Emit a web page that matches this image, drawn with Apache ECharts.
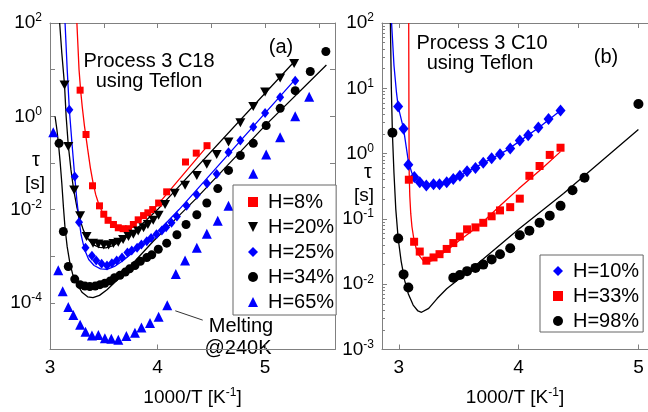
<!DOCTYPE html>
<html>
<head>
<meta charset="utf-8">
<script src="https://cdn.jsdelivr.net/npm/echarts@6/dist/echarts.min.js"></script>
<style>
  html, body { margin: 0; padding: 0; background: #fff; }
  #chart { width: 648px; height: 412px; }
</style>
</head>
<body>
<div id="chart"></div>
<script>
// values as [1000/T, log10(tau)]
// panel (a) - C18
var a8 = [[3.28,0.56],[3.335,-0.39],[3.395,-1.49],[3.46,-1.92],[3.50,-2.10],[3.54,-2.23],[3.59,-2.32],[3.635,-2.39],[3.68,-2.41],[3.73,-2.41],[3.775,-2.32],[3.82,-2.22],[3.87,-2.13],[3.91,-2.07],[3.955,-2.0],[4.01,-1.86],[4.085,-1.62],[4.26,-0.98],[4.36,-0.79],[4.46,-0.63]];
var a20 = [[3.135,0.67],[3.17,-0.65],[3.225,-1.58],[3.28,-2.13],[3.34,-2.58],[3.40,-2.72],[3.45,-2.74],[3.50,-2.76],[3.545,-2.76],[3.59,-2.73],[3.635,-2.70],[3.68,-2.64],[3.73,-2.58],[3.775,-2.53],[3.82,-2.46],[3.87,-2.39],[3.91,-2.32],[3.96,-2.23],[4.01,-2.12],[4.07,-1.89],[4.16,-1.65],[4.256,-1.48],[4.365,-1.27],[4.458,-1.03],[4.55,-0.82],[4.66,-0.55],[4.77,-0.14],[4.89,0.21],[5.0,0.52],[5.14,0.82],[5.27,1.13]];
var a25 = [[3.18,0.14],[3.23,-1.29],[3.27,-2.27],[3.33,-2.82],[3.39,-2.99],[3.43,-3.09],[3.48,-3.16],[3.53,-3.20],[3.575,-3.15],[3.62,-3.09],[3.67,-3.03],[3.72,-2.92],[3.76,-2.88],[3.81,-2.82],[3.85,-2.75],[3.90,-2.68],[3.94,-2.61],[3.99,-2.53],[4.04,-2.45],[4.08,-2.38],[4.13,-2.28],[4.18,-2.15],[4.27,-1.92],[4.365,-1.68],[4.46,-1.44],[4.55,-1.24],[4.66,-0.77],[4.77,-0.52],[4.89,-0.23],[5.0,0.07],[5.14,0.41],[5.28,0.76]];
var a34 = [[3.084,-0.58],[3.124,-2.47],[3.17,-3.22],[3.23,-3.49],[3.28,-3.61],[3.325,-3.64],[3.37,-3.65],[3.42,-3.64],[3.465,-3.61],[3.51,-3.58],[3.56,-3.53],[3.60,-3.46],[3.65,-3.41],[3.70,-3.34],[3.74,-3.27],[3.79,-3.20],[3.84,-3.11],[3.90,-3.03],[3.946,-2.97],[4.007,-2.85],[4.085,-2.72],[4.18,-2.54],[4.265,-2.32],[4.365,-2.11],[4.458,-1.86],[4.56,-1.55],[4.66,-1.16],[4.77,-0.84],[4.89,-0.58],[5.01,-0.2],[5.14,0.17],[5.28,0.55],[5.42,0.96],[5.565,1.39]];
var a65 = [[3.03,-0.34],[3.077,-3.30],[3.118,-3.75],[3.17,-4.09],[3.217,-4.26],[3.28,-4.47],[3.33,-4.62],[3.39,-4.70],[3.45,-4.69],[3.51,-4.76],[3.57,-4.77],[3.635,-4.79],[3.71,-4.71],[3.79,-4.64],[3.85,-4.53],[3.93,-4.43],[4.01,-4.30],[4.09,-4.05],[4.17,-3.38],[4.256,-3.09],[4.365,-2.82],[4.458,-2.52],[4.56,-2.24],[4.66,-1.92],[4.77,-1.58],[4.89,-1.23],[5.01,-0.82],[5.14,-0.45],[5.28,0.0],[5.41,0.42]];
// fitted curves in panel (a)
var fit8 = [[3.25,2.0],[3.26,1.5],[3.27,1.0],[3.285,0.55],[3.30,0.2],[3.32,-0.2],[3.35,-0.7],[3.375,-1.1],[3.40,-1.42],[3.425,-1.68],[3.45,-1.86],[3.48,-2.02],[3.52,-2.16],[3.57,-2.28],[3.63,-2.36],[3.69,-2.39],[3.75,-2.36],[3.82,-2.26],[3.90,-2.10],[4.00,-1.90],[4.47,-0.62]];
var fit20 = [[3.09,2.0],[3.11,1.35],[3.135,0.67],[3.15,0.0],[3.17,-0.62],[3.195,-1.15],[3.22,-1.58],[3.25,-1.95],[3.28,-2.22],[3.31,-2.44],[3.35,-2.62],[3.40,-2.75],[3.46,-2.81],[3.52,-2.82],[3.58,-2.78],[3.65,-2.69],[3.72,-2.57],[3.80,-2.42],[3.90,-2.22],[4.0,-2.0],[5.27,1.17]];
var fit25 = [[3.14,2.0],[3.16,1.0],[3.18,0.14],[3.205,-0.6],[3.23,-1.29],[3.25,-1.8],[3.27,-2.22],[3.29,-2.55],[3.32,-2.85],[3.36,-3.07],[3.41,-3.2],[3.47,-3.27],[3.53,-3.28],[3.60,-3.22],[3.68,-3.09],[3.77,-2.92],[3.88,-2.71],[4.0,-2.47],[4.1,-2.24],[4.2,-2.0],[5.28,0.79]];
var fit34 = [[3.047,0.0],[3.065,-0.3],[3.08,-0.62],[3.095,-1.0],[3.11,-1.44],[3.125,-1.95],[3.14,-2.4],[3.16,-2.8],[3.185,-3.15],[3.21,-3.38],[3.25,-3.6],[3.30,-3.78],[3.35,-3.87],[3.40,-3.89],[3.46,-3.84],[3.53,-3.72],[3.62,-3.52],[3.72,-3.28],[3.84,-2.98],[3.96,-2.68],[4.1,-2.36],[4.36,-1.76],[5.0,-0.2],[5.57,1.10]];
// panel (b) - C10
var b10 = [[2.995,0.72],[3.04,0.38],[3.08,-0.17],[3.13,-0.36],[3.175,-0.44],[3.23,-0.49],[3.29,-0.47],[3.34,-0.47],[3.40,-0.44],[3.455,-0.39],[3.51,-0.34],[3.57,-0.27],[3.64,-0.22],[3.705,-0.14],[3.775,-0.07],[3.845,-0.01],[3.93,0.08],[4.01,0.20],[4.08,0.28],[4.165,0.40],[4.25,0.53],[4.35,0.66]];
var b33 = [[3.084,-0.40],[3.128,-1.35],[3.175,-1.50],[3.23,-1.64],[3.29,-1.59],[3.34,-1.54],[3.40,-1.46],[3.455,-1.37],[3.51,-1.27],[3.57,-1.16],[3.64,-1.13],[3.705,-1.06],[3.775,-0.96],[3.845,-0.87],[3.93,-0.82],[4.01,-0.69],[4.09,-0.34],[4.175,-0.19],[4.26,-0.02],[4.35,0.09]];
var b98 = [[2.947,0.32],[2.995,-1.30],[3.04,-1.85],[3.08,-2.05],[3.455,-1.90],[3.51,-1.86],[3.57,-1.80],[3.64,-1.75],[3.705,-1.70],[3.775,-1.62],[3.845,-1.54],[3.93,-1.45],[4.01,-1.25],[4.09,-1.18],[4.175,-1.06],[4.26,-0.95],[4.35,-0.80],[4.45,-0.56],[4.55,-0.37],[5.0,0.76]];
// fitted curves in panel (b)
var fit10 = [[2.94,2.0],[2.96,1.35],[2.98,0.95],[2.995,0.72],[3.04,0.38],[3.08,-0.12],[3.11,-0.3],[3.15,-0.4],[3.2,-0.46],[3.27,-0.49],[3.34,-0.48],[3.42,-0.43],[3.5,-0.35],[3.6,-0.25],[3.7,-0.15],[3.8,-0.05],[3.9,0.05],[4.0,0.18],[4.17,0.4],[4.35,0.66]];
var fit33 = [[3.083,2.0],[3.085,0.5],[3.087,-0.3],[3.092,-0.65],[3.10,-0.92],[3.11,-1.12],[3.125,-1.3],[3.145,-1.45],[3.17,-1.56],[3.2,-1.63],[3.24,-1.66],[3.29,-1.63],[3.35,-1.55],[3.43,-1.44],[3.5,-1.34],[3.6,-1.2],[3.7,-1.05],[3.845,-0.8],[4.0,-0.54],[4.2,-0.22],[4.35,0.03]];
var fit98 = [[2.93,2.0],[2.938,1.0],[2.947,0.3],[2.96,-0.3],[2.975,-0.85],[2.995,-1.3],[3.02,-1.65],[3.05,-1.95],[3.08,-2.15],[3.12,-2.32],[3.16,-2.41],[3.19,-2.43],[3.25,-2.37],[3.32,-2.22],[3.4,-2.07],[3.55,-1.85],[3.7,-1.62],[4.0,-1.16],[4.375,-0.61],[5.0,0.37]];
// "Melting @240K" arrow, from text to point
var meltArrow = [[4.42,-4.37],[4.165,-4.17]];

var FONT = 'Liberation Sans';
var GRAY = '#808080';
var triDown = 'path://M0,0 L10,0 L5,10 Z';

function pts(arr) {
  return arr.map(function (p) { return [p[0], Math.pow(10, p[1])]; });
}
function pow10Label(v) {
  var e = Math.round(Math.log10(v));
  return '{b|10}{s|' + e + '}';
}
var powRich = {
  b: { fontSize: 19, fontFamily: FONT, color: '#000', lineHeight: 22 },
  s: { fontSize: 12, fontFamily: FONT, color: '#000', verticalAlign: 'top', lineHeight: 14 }
};

function xAx(grid, min, max, extra) {
  var ax = {
    gridIndex: grid, type: 'value', min: min, max: max,
    axisLine: { lineStyle: { color: GRAY, width: 1 } },
    axisTick: { inside: true, length: 5, lineStyle: { color: GRAY } },
    splitLine: { show: false },
    axisLabel: { fontSize: 19, fontFamily: FONT, color: '#000', margin: 9, showMinLabel: extra.showMin, showMaxLabel: false },
    name: '{b|1000/T [K}{s|-1}{b|]}', nameLocation: 'middle', nameGap: 37,
    nameTextStyle: { rich: powRich }
  };
  if (extra.interval) ax.interval = extra.interval;
  if (extra.splitNumber) ax.splitNumber = extra.splitNumber;
  return ax;
}
function xTop(grid, min, max) {
  return {
    gridIndex: grid, type: 'value', min: min, max: max, position: 'top',
    axisLine: { lineStyle: { color: GRAY } },
    axisTick: { inside: true, length: 5, lineStyle: { color: GRAY } },
    axisLabel: { show: false }, splitLine: { show: false }
  };
}
function yAx(grid, min, max, labelFn, minor) {
  return {
    gridIndex: grid, type: 'log', logBase: 10, min: min, max: max,
    axisLine: { show: true, lineStyle: { color: GRAY } },
    axisTick: { inside: true, length: 5, lineStyle: { color: GRAY } },
    minorTick: { show: minor, splitNumber: 9, length: 3, lineStyle: { color: GRAY } },
    splitLine: { show: false },
    axisLabel: { formatter: labelFn, rich: powRich, margin: 8 }
  };
}
function yRight(grid, min, max, show) {
  return {
    gridIndex: grid, type: 'log', logBase: 10, min: min, max: max, position: 'right', show: show,
    axisLine: { show: true, lineStyle: { color: GRAY } },
    axisTick: { inside: true, length: 5, lineStyle: { color: GRAY } },
    axisLabel: { show: false }, splitLine: { show: false }
  };
}

function scatter(name, data, xi, yi, symbol, size, color) {
  return {
    name: name, type: 'scatter', xAxisIndex: xi, yAxisIndex: yi,
    data: pts(data), symbol: symbol, symbolSize: size,
    itemStyle: { color: color, opacity: 1 }, z: 3, silent: true
  };
}
function fitLine(name, data, xi, yi, color) {
  return {
    name: name, type: 'line', xAxisIndex: xi, yAxisIndex: yi,
    data: pts(data), showSymbol: false, smooth: false,
    lineStyle: { color: color, width: 1.3 }, z: 2, silent: true
  };
}
function txt(x, y, s, size) {
  return { type: 'text', x: x, y: y, style: { text: s, fontSize: size || 20, fontFamily: FONT, fill: '#000', align: 'center', verticalAlign: 'middle' } };
}

var chart = echarts.init(document.getElementById('chart'));

var melt = scatter('H=65%', a65, 0, 0, 'triangle', 10, '#0000ff');
melt.markLine = {
  silent: true, symbol: ['none', 'arrow'], symbolSize: [0, 7],
  label: { show: false },
  lineStyle: { color: '#333', width: 1, type: 'solid' },
  data: [[{ coord: [meltArrow[0][0], Math.pow(10, meltArrow[0][1])] },
          { coord: [meltArrow[1][0], Math.pow(10, meltArrow[1][1])] }]]
};

var legendBase = {
  orient: 'vertical', itemWidth: 10, itemHeight: 10, itemGap: 5,
  backgroundColor: '#fff', borderColor: '#666', borderWidth: 1,
  textStyle: { fontSize: 20, fontFamily: FONT, color: '#000', padding: [0, 0, 0, 5] },
  selectedMode: false
};
function legend(names, left, top, padding) {
  var l = Object.assign({}, legendBase);
  l.data = names; l.left = left; l.top = top; l.padding = padding;
  return l;
}

var option = {
  animation: false,
  backgroundColor: '#fff',
  textStyle: { fontFamily: FONT },
  grid: [
    { left: 50, top: 23, width: 285, height: 339 },
    { left: 382, top: 23, width: 266, height: 339 }
  ],
  xAxis: [
    xAx(0, 3, 5.65, { interval: 1, showMin: true }),
    xTop(0, 3, 5.65),
    xAx(1, 2.86, 5.08, { splitNumber: 2, showMin: false }),
    xTop(1, 2.86, 5.08)
  ],
  yAxis: [
    yAx(0, 1e-5, 100, function (v) {
      var e = Math.round(Math.log10(v));
      return (e % 2 === 0) ? pow10Label(v) : '';
    }, false),
    yRight(0, 1e-5, 100, true),
    yAx(1, 1e-3, 100, pow10Label, true),
    yRight(1, 1e-3, 100, false)
  ],
  legend: [
    legend(['H=8%', 'H=20%', 'H=25%', 'H=34%', 'H=65%'], 233, 185, [7, 2, 3, 15]),
    legend(['H=10%', 'H=33%', 'H=98%'], 540, 255, [6, 4, 1, 13])
  ],
  series: [
    fitLine('fit8', fit8, 0, 0, '#ff0000'),
    fitLine('fit20', fit20, 0, 0, '#000000'),
    fitLine('fit25', fit25, 0, 0, '#0000ff'),
    fitLine('fit34', fit34, 0, 0, '#000000'),
    scatter('H=8%', a8, 0, 0, 'rect', 7, '#ff0000'),
    scatter('H=20%', a20, 0, 0, triDown, [10, 9], '#000000'),
    scatter('H=25%', a25, 0, 0, 'diamond', [8, 10], '#0000ff'),
    scatter('H=34%', a34, 0, 0, 'circle', 9, '#000000'),
    melt,
    fitLine('fit10', fit10, 2, 2, '#0000ff'),
    fitLine('fit33', fit33, 2, 2, '#ff0000'),
    fitLine('fit98', fit98, 2, 2, '#000000'),
    scatter('H=10%', b10, 2, 2, 'diamond', [10, 12], '#0000ff'),
    scatter('H=33%', b33, 2, 2, 'rect', 8, '#ff0000'),
    scatter('H=98%', b98, 2, 2, 'circle', 10, '#000000')
  ],
  graphic: [
    txt(149, 61, 'Process 3 C18'),
    txt(149, 81, 'using Teflon'),
    txt(281, 47, '(a)'),
    txt(482, 43, 'Process 3 C10'),
    txt(480, 63, 'using Teflon'),
    txt(606, 57, '(b)'),
    txt(36, 160, 'τ'),
    txt(35, 184, '[s]', 19),
    txt(368, 172, 'τ'),
    txt(364, 196, '[s]', 19),
    txt(241, 326, 'Melting'),
    txt(238, 348, '@240K')
  ]
};
chart.setOption(option);
</script>
</body>
</html>
